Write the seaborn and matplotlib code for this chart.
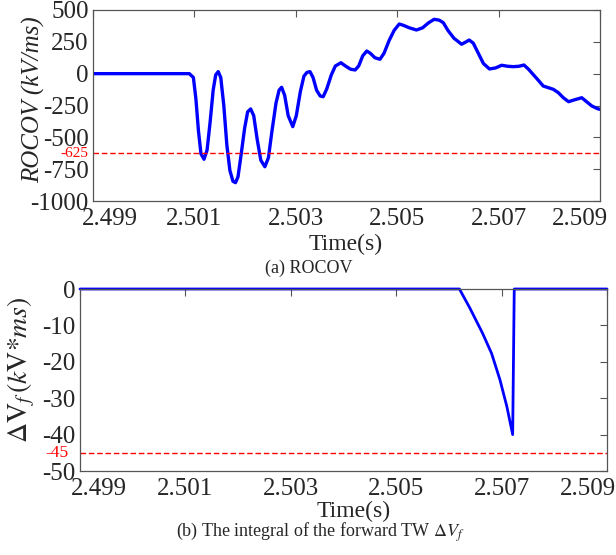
import numpy as np
import pandas as pd
import matplotlib
matplotlib.use('Agg')
import matplotlib.pyplot as plt
import matplotlib.transforms as mtransforms
import seaborn as sns

# (a) ROCOV
t_rocov = [2.4990, 2.4995, 2.5000, 2.5009, 2.50098, 2.50103, 2.50108, 2.50113, 2.50119, 2.50125,
           2.50131, 2.50137, 2.50142, 2.50147, 2.50152, 2.50158, 2.50164, 2.50170, 2.50176, 2.50181,
           2.50186, 2.50192, 2.50199, 2.50205, 2.50211, 2.50217, 2.50224, 2.50231, 2.50239, 2.50246,
           2.50253, 2.50261, 2.50267, 2.50272, 2.50278, 2.50285, 2.50294, 2.50301, 2.50309, 2.50316,
           2.50322, 2.50328, 2.50334, 2.50341, 2.50348, 2.50354, 2.50361, 2.50370, 2.50378, 2.50389,
           2.50398, 2.50408, 2.50417, 2.50424, 2.50432, 2.50440, 2.50447, 2.50456, 2.50466, 2.50474,
           2.50484, 2.50494, 2.50504, 2.50512, 2.50524, 2.50538, 2.50550, 2.50562, 2.50573, 2.50583,
           2.50591, 2.50600, 2.50612, 2.50627, 2.50636, 2.50642, 2.50650, 2.50660, 2.50670, 2.50682,
           2.50694, 2.50706, 2.50718, 2.50729, 2.50740, 2.50750, 2.50759, 2.50769, 2.50779, 2.50788,
           2.50798, 2.50808, 2.50818, 2.50828, 2.50838, 2.50850, 2.50864, 2.50875, 2.50884, 2.50895,
           2.50900]
rocov = [0, 0, 0, 0, -30, -200, -450, -630, -672, -600,
         -380, -130, -10, 16, -30, -250, -560, -760, -845, -856,
         -810, -640, -430, -300, -277, -330, -520, -680, -731, -660,
         -450, -230, -130, -107, -170, -330, -416, -330, -140, -20,
         10, 16, -30, -130, -175, -181, -120, -10, 60, 86,
         60, 35, 29, 60, 140, 178, 160, 125, 113, 160,
         260, 340, 390, 380, 360, 343, 360, 400, 427, 420,
         400, 340, 278, 231, 250, 264, 240, 160, 80, 37,
         45, 66, 58, 55, 58, 68, 35, -10, -55, -97,
         -110, -123, -150, -190, -220, -205, -189, -225, -254, -275,
         -280]
rocov_set = -625

# (b) integral of forward TW
t_dv = [2.4990, 2.50620, 2.50640, 2.50664, 2.50681, 2.50697, 2.50710, 2.50721, 2.50724, 2.5090]
dv = [0, 0, -5.3, -12.2, -17.7, -25, -32.3, -40, 0, 0]
dv_set = -45

x_ticks = [2.499, 2.501, 2.503, 2.505, 2.507, 2.509]
x_labels = ['2.499', '2.501', '2.503', '2.505', '2.507', '2.509']
y_ticks_a = [500, 250, 0, -250, -500, -750, -1000]
y_ticks_b = [0, -10, -20, -30, -40, -50]

sns.set_style('white')
plt.rcParams['font.family'] = ['Liberation Serif', 'DejaVu Serif']
plt.rcParams['mathtext.fontset'] = 'stix'
plt.rcParams['axes.unicode_minus'] = False

fig = plt.figure(figsize=(6.16, 5.55), dpi=100)
W, H = 616, 555
ax1 = fig.add_axes([93 / W, 1 - 201 / H, 507 / W, 191 / H])
ax2 = fig.add_axes([80 / W, 1 - 471 / H, 527 / W, 182 / H])

df_a = pd.DataFrame({'t': t_rocov, 'v': rocov})
df_b = pd.DataFrame({'t': t_dv, 'v': dv})
sns.lineplot(data=df_a, x='t', y='v', ax=ax1, color='#0000ff', linewidth=2.4,
             sort=False, estimator=None)
sns.lineplot(data=df_b, x='t', y='v', ax=ax2, color='#0000ff', linewidth=2.0,
             sort=False, estimator=None, clip_on=False)

ax1.axhline(rocov_set, color='#ff0000', linestyle=(0, (4, 2)), linewidth=1.0)
ax2.axhline(dv_set, color='#ff0000', linestyle=(0, (4, 2)), linewidth=1.0)

ax1.set_ylim(-1000, 500)
ax2.set_ylim(-50, 0)
ax1.set_yticks(y_ticks_a)
ax2.set_yticks(y_ticks_b)

for ax, shift_l, shift_r in [(ax1, 17, -20), (ax2, 19, -19)]:
    ax.set_xlim(2.499, 2.509)
    ax.set_xticks(x_ticks)
    ax.set_xticklabels(x_labels)
    ax.tick_params(direction='in', top=True, right=True, length=5, width=0.8,
                   labelsize=18, colors='#555555', labelcolor='#262626', pad=3)
    ax.tick_params(axis='x', pad=5)
    for s in ax.spines.values():
        s.set_color('#555555')
        s.set_linewidth(0.9)
    labs = ax.get_xticklabels()
    labs[0].set_transform(labs[0].get_transform() +
                          mtransforms.ScaledTranslation(shift_l / 100, 0, fig.dpi_scale_trans))
    labs[-1].set_transform(labs[-1].get_transform() +
                           mtransforms.ScaledTranslation(shift_r / 100, 0, fig.dpi_scale_trans))

# threshold labels on the y axis
ax1.text(-0.01, rocov_set, '-625', color='#ff0000', fontsize=11, ha='right', va='center',
         transform=mtransforms.blended_transform_factory(ax1.transAxes, ax1.transData))
ax2.text(-0.021, dv_set, '-45', color='#ff0000', fontsize=12.5, ha='right', va='center',
         transform=mtransforms.blended_transform_factory(ax2.transAxes, ax2.transData))

ax1.set_xlabel('Time(s)', fontsize=17, color='#262626')
ax1.xaxis.set_label_coords(0.499, -0.23)
ax1.xaxis.label.set_va('center')
ax2.set_xlabel('Time(s)', fontsize=17, color='#262626')
ax2.xaxis.set_label_coords(0.52, -0.22)
ax2.xaxis.label.set_va('center')

ax1.set_ylabel('ROCOV (kV/ms)', fontsize=18, fontstyle='italic', color='#262626')
ax1.yaxis.set_label_coords(-0.118, 0.529)
ax1.yaxis.label.set_va('center')
ax2.set_ylabel(r'$\Delta \mathrm{V}_f\,(k\mathrm{V}{*}ms)$', fontsize=20, color='#262626')
ax2.yaxis.set_label_coords(-0.111, 0.555)
ax2.yaxis.label.set_va('center')

fig.text(309 / W, 1 - 268.5 / H, '(a) ROCOV', fontsize=13, ha='center', va='center')
fig.text(320 / W, 1 - 532 / H, r'(b) The integral of the forward TW $\Delta V_f$',
         fontsize=13, ha='center', va='center')

fig.savefig('out.png', dpi=100)
